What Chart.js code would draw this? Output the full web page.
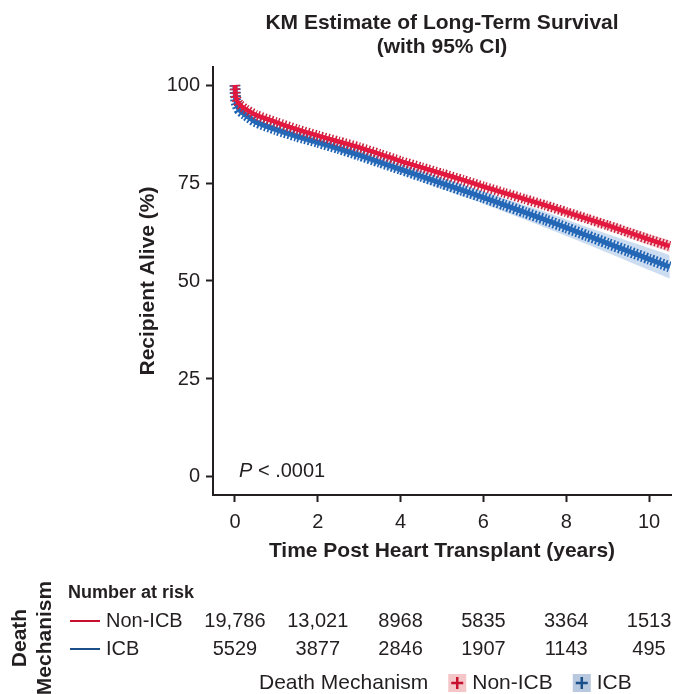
<!DOCTYPE html>
<html>
<head>
<meta charset="utf-8">
<script src="https://cdn.jsdelivr.net/npm/chart.js@4/dist/chart.umd.min.js"></script>
<style>
  html, body { margin: 0; padding: 0; background: #fff; }
  #wrap { width: 674px; height: 694px; }
</style>
</head>
<body>
<div id="wrap"><canvas id="kmChart" width="674" height="694"></canvas></div>
<script>
// survival data (years, % alive)
var times = [0, 0.02, 0.1, 0.25, 0.5, 1, 1.5, 2, 2.5, 3, 3.5, 4, 4.5, 5, 5.5, 6, 6.5, 7, 7.5, 8, 8.5, 9, 9.5, 10, 10.5];
var nonIcb   = [100, 97.0, 95.2, 93.9, 92.4, 90.5, 88.7, 87.1, 85.6, 84.1, 82.4, 80.6, 79.0, 77.4, 75.8, 74.1, 72.5, 70.9, 69.3, 67.6, 65.9, 64.2, 62.4, 60.6, 58.9];
var nonIcbLo = [100, 96.7, 94.9, 93.6, 92.0, 90.1, 88.3, 86.6, 85.1, 83.6, 81.9, 80.0, 78.4, 76.7, 75.1, 73.3, 71.7, 70.0, 68.3, 66.6, 64.8, 63.0, 61.1, 59.2, 57.4];
var nonIcbHi = [100, 97.3, 95.5, 94.2, 92.8, 90.9, 89.1, 87.6, 86.1, 84.6, 82.9, 81.2, 79.6, 78.1, 76.5, 74.9, 73.3, 71.8, 70.3, 68.6, 67.0, 65.4, 63.7, 62.0, 60.4];
var icb   = [100, 96.0, 93.7, 92.4, 90.6, 88.6, 86.9, 85.4, 83.8, 82.1, 80.3, 78.5, 76.7, 74.9, 73.1, 71.3, 69.4, 67.5, 65.6, 63.6, 61.6, 59.6, 57.6, 55.6, 53.6];
var icbLo = [100, 95.5, 93.1, 91.8, 89.9, 87.8, 86.0, 84.5, 82.8, 81.0, 79.2, 77.3, 75.4, 73.5, 71.6, 69.7, 67.7, 65.7, 63.6, 61.5, 59.4, 57.2, 55.0, 52.8, 50.6];
var icbHi = [100, 96.5, 94.3, 93.0, 91.3, 89.4, 87.8, 86.3, 84.8, 83.2, 81.4, 79.7, 78.0, 76.3, 74.6, 72.9, 71.1, 69.3, 67.6, 65.7, 63.8, 62.0, 60.2, 58.4, 56.6];

// number at risk table
var riskTimes  = [0, 2, 4, 6, 8, 10];
var riskNonIcb = [19786, 13021, 8968, 5835, 3364, 1513];
var riskIcb    = [5529, 3877, 2846, 1907, 1143, 495];

var xTicks = [0, 2, 4, 6, 8, 10];
var yTicks = [0, 25, 50, 75, 100];

var RED = '#E4173F', RED_DARK = '#C8102E';
var BLUE = '#2367B6', BLUE_DARK = '#1B4F8A';
var FONT = '"Liberation Sans", Arial, Helvetica, sans-serif';
var INK = '#231F20';

function pts(ys) {
    return times.map(function (t, i) { return { x: t, y: ys[i] }; });
}

function fmt(n) {
    return n >= 10000 ? n.toLocaleString('en-US') : String(n);
}

var extras = {
    id: 'extras',
    afterDraw: function (chart) {
        var ctx = chart.ctx, xs = chart.scales.x, area = chart.chartArea;
        var cx = (area.left + area.right) / 2;
        ctx.save();
        ctx.fillStyle = INK;
        ctx.textBaseline = 'middle';

        // title
        ctx.textAlign = 'center';
        ctx.font = 'bold 21px ' + FONT;
        ctx.fillText('KM Estimate of Long-Term Survival', cx, 23);
        ctx.fillText('(with 95% CI)', cx, 47);

        // axis titles
        ctx.fillText('Time Post Heart Transplant (years)', cx, 551);
        ctx.save();
        ctx.translate(148, (area.top + area.bottom) / 2);
        ctx.rotate(-Math.PI / 2);
        ctx.fillText('Recipient Alive (%)', 0, 0);
        ctx.restore();

        // p value
        ctx.textAlign = 'left';
        ctx.font = 'italic 20px ' + FONT;
        ctx.fillText('P', 239, 471);
        var pw = ctx.measureText('P ').width;
        ctx.font = '20px ' + FONT;
        ctx.fillText('< .0001', 239 + pw, 471);

        // risk table
        ctx.font = 'bold 18px ' + FONT;
        ctx.fillText('Number at risk', 68, 593);
        var rows = [
            { name: 'Non-ICB', vals: riskNonIcb, col: RED_DARK, y: 621 },
            { name: 'ICB', vals: riskIcb, col: BLUE_DARK, y: 649 }
        ];
        rows.forEach(function (r) {
            ctx.strokeStyle = r.col;
            ctx.lineWidth = 2;
            ctx.beginPath();
            ctx.moveTo(70, r.y);
            ctx.lineTo(100, r.y);
            ctx.stroke();
            ctx.font = '20px ' + FONT;
            ctx.textAlign = 'left';
            ctx.fillText(r.name, 106, r.y);
            ctx.textAlign = 'center';
            r.vals.forEach(function (v, i) {
                ctx.fillText(fmt(v), xs.getPixelForValue(riskTimes[i]), r.y);
            });
        });

        // vertical "Death Mechanism"
        ctx.font = 'bold 21px ' + FONT;
        ctx.textAlign = 'center';
        ctx.save();
        ctx.translate(20, 638);
        ctx.rotate(-Math.PI / 2);
        ctx.fillText('Death', 0, 0);
        ctx.fillText('Mechanism', 0, 25);
        ctx.restore();

        // bottom legend
        ctx.font = '21px ' + FONT;
        ctx.textAlign = 'left';
        var lx = 259, ly = 683;
        ctx.fillText('Death Mechanism', lx, ly);
        lx += ctx.measureText('Death Mechanism').width + 20;
        [['Non-ICB', '#F5C6C8', RED_DARK], ['ICB', '#B7C8DF', BLUE_DARK]].forEach(function (k) {
            ctx.fillStyle = k[1];
            ctx.fillRect(lx, ly - 9, 18, 18);
            ctx.strokeStyle = k[2];
            ctx.lineWidth = 2.5;
            ctx.beginPath();
            ctx.moveTo(lx + 3, ly); ctx.lineTo(lx + 15, ly);
            ctx.moveTo(lx + 9, ly - 6); ctx.lineTo(lx + 9, ly + 6);
            ctx.stroke();
            ctx.fillStyle = INK;
            ctx.fillText(k[0], lx + 24, ly);
            lx += 24 + ctx.measureText(k[0]).width + 20;
        });
        ctx.restore();
    }
};

var ctx = document.getElementById('kmChart').getContext('2d');

var bandStyle = { pointRadius: 0, borderWidth: 0, tension: 0.2 };

var kmChart = new Chart(ctx, {
    type: 'line',
    data: {
        datasets: [
            Object.assign({ label: 'nonIcbLo', data: pts(nonIcbLo), fill: false, order: 20 }, bandStyle),
            Object.assign({ label: 'nonIcbHi', data: pts(nonIcbHi), fill: '-1', backgroundColor: 'rgba(232,110,125,0.35)', order: 20 }, bandStyle),
            Object.assign({ label: 'icbLo', data: pts(icbLo), fill: false, order: 21 }, bandStyle),
            Object.assign({ label: 'icbHi', data: pts(icbHi), fill: '-1', backgroundColor: 'rgba(110,155,215,0.35)', order: 21 }, bandStyle),
            // censor marks drawn as a thick fine-dashed stroke
            { label: 'icbMarks', data: pts(icb), borderColor: '#1F63B3', borderWidth: 11, borderDash: [1.7, 1.8],
              borderCapStyle: 'butt', pointRadius: 0, fill: false, tension: 0.2, order: 6 },
            { label: 'ICB', data: pts(icb), borderColor: BLUE, borderWidth: 5, pointRadius: 0, fill: false, tension: 0.2, order: 5 },
            { label: 'nonIcbMarks', data: pts(nonIcb), borderColor: '#C9243E', borderWidth: 10, borderDash: [1.5, 2.0],
              borderCapStyle: 'butt', pointRadius: 0, fill: false, tension: 0.2, order: 4 },
            { label: 'Non-ICB', data: pts(nonIcb), borderColor: RED, borderWidth: 4.5, pointRadius: 0, fill: false, tension: 0.2, order: 3 }
        ]
    },
    options: {
        responsive: false,
        animation: false,
        layout: { padding: { top: 67, right: 3, bottom: 139, left: 0 } },
        plugins: {
            legend: { display: false },
            tooltip: { enabled: false },
            title: { display: false }
        },
        scales: {
            x: {
                type: 'linear',
                min: -0.53,
                max: 10.53,
                afterBuildTicks: function (s) { s.ticks = xTicks.map(function (v) { return { value: v }; }); },
                afterFit: function (s) { s.height = 60; },
                border: { display: true, color: '#231F20', width: 2 },
                grid: { display: true, drawOnChartArea: false, drawTicks: true, tickLength: 7, tickWidth: 2, tickColor: '#231F20' },
                ticks: { color: INK, font: { family: FONT, size: 20 }, padding: 8, maxRotation: 0 }
            },
            y: {
                min: -4.6,
                max: 104.6,
                afterBuildTicks: function (s) { s.ticks = yTicks.map(function (v) { return { value: v }; }); },
                afterFit: function (s) { s.width = 213; },
                border: { display: true, color: '#231F20', width: 2 },
                grid: { display: true, drawOnChartArea: false, drawTicks: true, tickLength: 7, tickWidth: 2, tickColor: '#231F20' },
                ticks: { color: INK, font: { family: FONT, size: 20 }, padding: 6 }
            }
        }
    },
    plugins: [extras]
});
</script>
</body>
</html>
